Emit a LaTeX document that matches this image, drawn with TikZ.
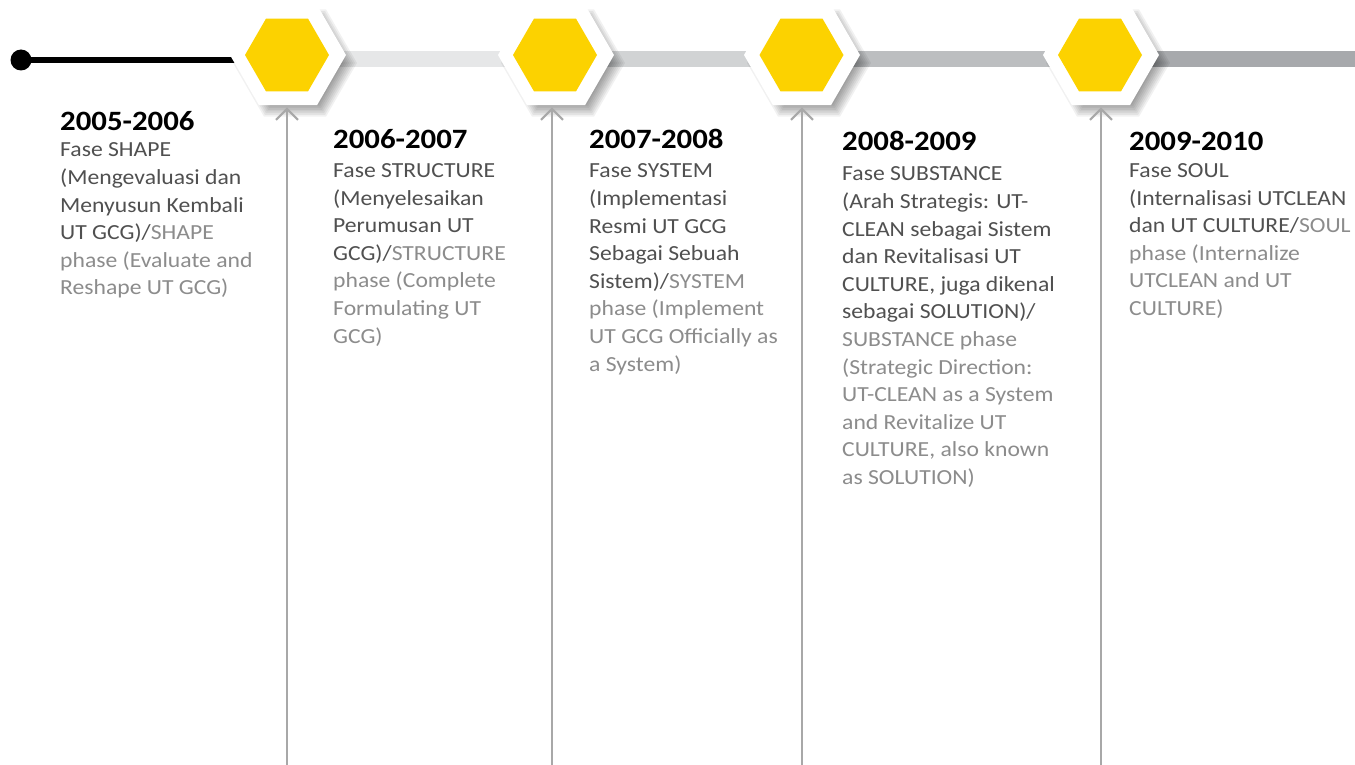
\documentclass[tikz,border=0pt]{standalone}
\usepackage{fontspec}
\setmainfont{Carlito}[FakeStretch=1.1]
\usetikzlibrary{shapes.geometric, arrows.meta}
\definecolor{hexyellow}{HTML}{FCD200}
\definecolor{indo}{HTML}{505050}
\definecolor{eng}{HTML}{8C8C8C}
\definecolor{barA}{HTML}{E6E7E8}
\definecolor{barB}{HTML}{D1D3D4}
\definecolor{barC}{HTML}{BCBEC0}
\definecolor{barD}{HTML}{A7A9AC}
\definecolor{arrowgray}{HTML}{A8A8A8}
\newcommand\en[1]{\textcolor{eng}{#1}}
\newcommand\hexshadow[1]{%
  \foreach \r in {48,50,...,63}{%
    \fill[black, opacity=0.055] ([shift={(7,8)}]#1) +(0:\r) -- +(60:\r) -- +(120:\r) -- +(180:\r) -- +(240:\r) -- +(300:\r) -- cycle;}}
\pgfdeclarelayer{back}
\pgfdeclarelayer{bg}
\pgfsetlayers{back,bg,main}
\begin{document}
\begin{tikzpicture}[x=1pt,y=-1pt,
  hexouter/.style={regular polygon, regular polygon sides=6, minimum size=116pt, inner sep=0pt, fill=white},
  hexinner/.style={regular polygon, regular polygon sides=6, minimum size=84pt, inner sep=0pt, fill=hexyellow},
  tlbar/.style={line width=16pt},
  tlarrow/.style={draw=arrowgray, line width=2pt, -{Straight Barb[length=11pt,width=22pt]}, shorten >=2pt},
  yeartitle/.style={font=\fontsize{28}{32}\selectfont\bfseries, anchor=base west, inner sep=0pt, text=black},
  phasebody/.style={font=\fontsize{21.5}{27.6}\selectfont, anchor=base west, inner sep=0pt, text=indo}]
\begin{pgfonlayer}{back}
\fill[white] (0,0) rectangle (1355,765);
\end{pgfonlayer}
\useasboundingbox (0,0) rectangle (1355,765);

% hexagon positions and shadows
\coordinate (c1) at (288,55);
\coordinate (c2) at (556,55);
\coordinate (c3) at (802,55);
\coordinate (c4) at (1101,55);
\hexshadow{c1}
\hexshadow{c2}
\hexshadow{c3}
\hexshadow{c4}

% hexagons
\node[hexouter] (o1) at (c1) {};
\node[hexinner] (h1) at ([xshift=-1pt]c1) {};
\node[hexouter] (o2) at (c2) {};
\node[hexinner] (h2) at ([xshift=-1pt]c2) {};
\node[hexouter] (o3) at (c3) {};
\node[hexinner] (h3) at ([xshift=-0.5pt]c3) {};
\node[hexouter] (o4) at (c4) {};
\node[hexinner] (h4) at ([xshift=-1pt]c4) {};

% start dot and line
\node[circle, fill=black, minimum size=21pt, inner sep=0pt] (start) at (21,60) {};
\coordinate (tlend) at (1355,59);
\begin{pgfonlayer}{bg}
\draw[line width=6pt, black] (start.center) -- ([yshift=-5pt]o1.center);
\draw[tlbar, barA] ([yshift=-4pt]o1.center) -- ([yshift=-4pt]o2.center);
\draw[tlbar, barB] ([yshift=-4pt]o2.center) -- ([yshift=-4pt]o3.center);
\draw[tlbar, barC] ([yshift=-4pt]o3.center) -- ([yshift=-4pt]o4.center);
\draw[tlbar, barD] ([yshift=-4pt]o4.center) -- (tlend);
\end{pgfonlayer}

% vertical arrows
\coordinate (b1) at (287,765);
\coordinate (b2) at (552,765);
\coordinate (b3) at (802,765);
\coordinate (b4) at (1101,765);
\draw[tlarrow] (b1) -- (b1 |- o1.south);
\draw[tlarrow] (b2) -- (b2 |- o2.south);
\draw[tlarrow] (b3) -- (b3 |- o3.south);
\draw[tlarrow] (b4) -- (b4 |- o4.south);

% texts
\node[yeartitle] (t1) at (60,131) {2005-2006};
\node[phasebody] (p1) at (60,157) {\begin{tabular}[t]{@{}l@{}}
Fase SHAPE\\
(Mengevaluasi dan\\
Menyusun Kembali\\
UT GCG)/\en{SHAPE}\\
\en{phase (Evaluate and}\\
\en{Reshape UT GCG)}
\end{tabular}};

\node[yeartitle] (t2) at (333,149) {2006-2007};
\node[phasebody] (p2) at (333,177.5) {\begin{tabular}[t]{@{}l@{}}
Fase STRUCTURE\\
(Menyelesaikan\\
Perumusan UT\\
GCG)/\en{STRUCTURE}\\
\en{phase (Complete}\\
\en{Formulating UT}\\
\en{GCG)}
\end{tabular}};

\node[yeartitle] (t3) at (589,149) {2007-2008};
\node[phasebody] (p3) at (589,178) {\begin{tabular}[t]{@{}l@{}}
Fase SYSTEM\\
(Implementasi\\
Resmi UT GCG\\
Sebagai Sebuah\\
Sistem)/\en{SYSTEM}\\
\en{phase (Implement}\\
\en{UT GCG Officially as}\\
\en{a System)}
\end{tabular}};

\node[yeartitle] (t4) at (842,150) {2008-2009};
\node[phasebody] (p4) at (842,181) {\begin{tabular}[t]{@{}l@{}}
Fase SUBSTANCE\\
(Arah Strategis: UT-\\
CLEAN sebagai Sistem\\
dan Revitalisasi UT\\
CULTURE, juga dikenal\\
sebagai SOLUTION)/\\
\en{SUBSTANCE phase}\\
\en{(Strategic Direction:}\\
\en{UT-CLEAN as a System}\\
\en{and Revitalize UT}\\
\en{CULTURE, also known}\\
\en{as SOLUTION)}
\end{tabular}};

\node[yeartitle] (t5) at (1129,150) {2009-2010};
\node[phasebody] (p5) at (1129,177.5) {\begin{tabular}[t]{@{}l@{}}
Fase SOUL\\
(Internalisasi UTCLEAN\\
dan UT CULTURE/\en{SOUL}\\
\en{phase (Internalize}\\
\en{UTCLEAN and UT}\\
\en{CULTURE)}
\end{tabular}};
\end{tikzpicture}
\end{document}
